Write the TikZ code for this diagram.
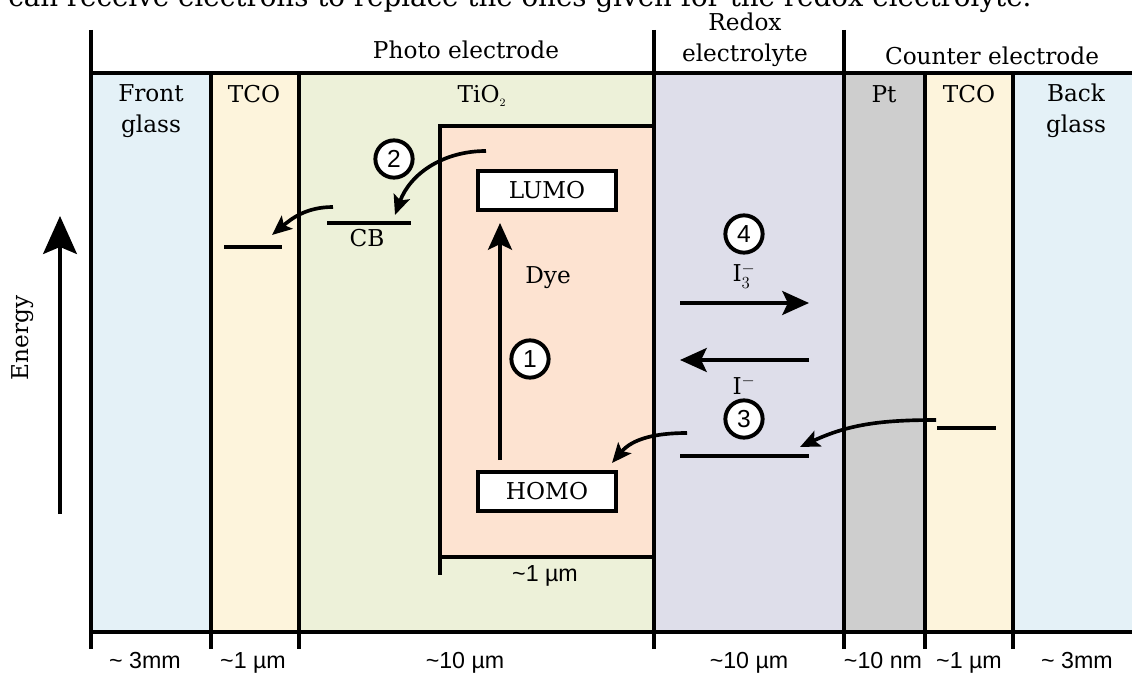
\documentclass[tikz,border=0pt]{standalone}
\usepackage{fontspec}
\setmainfont{DejaVu Serif}
\newfontfamily\dimfont{Liberation Sans}
\usepackage{tikz}
\usetikzlibrary{arrows.meta}
\definecolor{CellGlass}{HTML}{E4F1F7}
\definecolor{CellTCO}{HTML}{FDF4DC}
\definecolor{CellTiO}{HTML}{EDF1D9}
\definecolor{CellDye}{HTML}{FDE3D1}
\definecolor{CellRedox}{HTML}{DEDEEA}
\definecolor{CellPt}{HTML}{CECECE}
\tikzset{
  wall/.style={line width=2.8pt},
  level/.style={line width=2.8pt},
  layer/.style={align=center,font=\fontsize{16.5}{22}\selectfont},
  dimtext/.style={font=\dimfont\fontsize{16.5}{18}\selectfont},
  orbital/.style={draw,fill=white,line width=2.8pt,minimum width=97.8pt,minimum height=27.6pt,inner sep=0pt,font=\fontsize{16.5}{19}\selectfont},
  stepmark/.style={circle,draw,fill=white,line width=2.8pt,minimum size=26.5pt,inner sep=0pt,font=\dimfont\fontsize{17.5}{18}\selectfont},
  flow/.style={line width=2.6pt,-{Stealth[length=14pt,width=12pt,inset=3pt]}},
  ionflow/.style={line width=2.6pt,-{Stealth[length=19pt,width=17pt,inset=4pt]}}
}

\begin{document}
\begin{tikzpicture}[x=0.025cm,y=0.025cm]
\path[use as bounding box] (0,0) rectangle (1132,673);
\node[anchor=base west,inner sep=0pt,font=\fontsize{19.7}{21}\selectfont] (sentence) at (8,666) {can receive electrons to replace the ones given for the redox electrolyte.};
% layers of the cell
\fill[CellGlass] (91,41) rectangle (211,600);
\fill[CellTCO] (211,41) rectangle (299,600);
\fill[CellTiO] (299,41) rectangle (654,600);
\fill[CellRedox] (654,41) rectangle (844,600);
\fill[CellPt] (844,41) rectangle (925,600);
\fill[CellTCO] (925,41) rectangle (1013,600);
\fill[CellGlass] (1013,41) rectangle (1132,600);
% dye layer
\fill[CellDye] (440,116) rectangle (654,547);
\draw[wall] (654,547) -- (440,547) -- (440,98);
\draw[wall] (440,116) -- (654,116);
% walls and ticks
\draw[wall] (91,643) -- (91,24);
\draw[wall] (654,643) -- (654,24);
\draw[wall] (844,643) -- (844,24);
\draw[wall] (211,600) -- (211,24);
\draw[wall] (299,600) -- (299,24);
\draw[wall] (925,600) -- (925,24);
\draw[wall] (1013,600) -- (1013,24);
\draw[wall] (91,600) -- (1132,600);
\draw[wall] (91,41) -- (1132,41);
% headers
\node[layer,anchor=base] (photo) at (466,614) {Photo electrode};
\node[layer,anchor=south,inner sep=0pt] (redox) at (745,606) {Redox\\electrolyte};
\node[layer,anchor=base] (counter) at (992,608) {Counter electrode};
\node[layer,anchor=south,inner sep=0pt] (frontglass) at (151,535) {Front\\glass};
\node[layer,anchor=base] (tcofront) at (254,570) {TCO};
\node[layer,anchor=base] (tio) at (482,570) {TiO$_{\scriptscriptstyle 2}$};
\node[layer,anchor=base] (pt) at (884,570) {Pt};
\node[layer,anchor=base] (tcoback) at (969,570) {TCO};
\node[layer,anchor=south,inner sep=0pt] (backglass) at (1076,535) {Back\\glass};
% energy axis
\coordinate (ebase) at (60,159);
\coordinate (etip) at (60,457);
\draw[line width=2.6pt,-{Stealth[length=27pt,width=24pt,inset=5pt]}] (ebase) -- (etip);
\node[layer,rotate=90] (energy) at (23,335) {Energy};
% levels
\coordinate (tcoL) at (224,426);
\coordinate (tcoR) at (282,426);
\draw[level] (tcoL) -- (tcoR);
\coordinate (cbL) at (327,450);
\coordinate (cbR) at (411,450);
\draw[level] (cbL) -- (cbR);
\node[layer,anchor=base] (cb) at (367,426) {CB};
\coordinate (redL) at (680,217);
\coordinate (redR) at (809,217);
\draw[level] (redL) -- (redR);
\coordinate (ctcoL) at (937,245);
\coordinate (ctcoR) at (996,245);
\draw[level] (ctcoL) -- (ctcoR);
% dye orbitals
\node[orbital] (lumo) at (547,482.5) {LUMO};
\node[orbital] (homo) at (547,181.5) {HOMO};
\node[layer,anchor=base] (dye) at (548,390) {Dye};
\coordinate (exc0) at (500,213);
\coordinate (exc1) at (500,450);
\draw[ionflow] (exc0) -- (exc1);
% electron path
\coordinate (inj0) at (486,522);
\coordinate (inj1) at (395,458);
\draw[flow] (inj0) to[out=180,in=70] (inj1);
\coordinate (cbout) at (333,466);
\coordinate (tcoin) at (272,438);
\draw[flow] (cbout) to[out=180,in=40] (tcoin);
\coordinate (reg0) at (687,240);
\coordinate (reg1) at (612,210);
\draw[flow] (reg0) to[out=180,in=50] (reg1);
\coordinate (ce0) at (936,253);
\coordinate (ce1) at (800,226);
\draw[flow] (ce0) to[out=180,in=25] (ce1);
% ions
\coordinate (itri0) at (680,370);
\coordinate (itri1) at (809,370);
\draw[ionflow] (itri0) -- (itri1);
\node[layer,anchor=base] (itri) at (744,391) {I$^{-}_{3}$};
\coordinate (iod0) at (809,313);
\coordinate (iod1) at (680,313);
\draw[ionflow] (iod0) -- (iod1);
\node[layer,anchor=base] (iodide) at (744,279) {I$^{-}$};
% steps
\node[stepmark] (step1) at (530,314) {1};
\node[stepmark] (step2) at (394,514) {2};
\node[stepmark] (step3) at (744,254) {3};
\node[stepmark] (step4) at (744,439) {4};
% thicknesses
\node[dimtext,anchor=base] (dimdye) at (545,92) {\textasciitilde1 µm};
\node[dimtext,anchor=base] (dimfront) at (145,5) {\textasciitilde{} 3mm};
\node[dimtext,anchor=base] (dimtcofront) at (253,5) {\textasciitilde1 µm};
\node[dimtext,anchor=base] (dimtio) at (465,5) {\textasciitilde10 µm};
\node[dimtext,anchor=base] (dimredox) at (749,5) {\textasciitilde10 µm};
\node[dimtext,anchor=base] (dimpt) at (883,5) {\textasciitilde10 nm};
\node[dimtext,anchor=base] (dimtcoback) at (969,5) {\textasciitilde1 µm};
\node[dimtext,anchor=base] (dimback) at (1077,5) {\textasciitilde{} 3mm};
\end{tikzpicture}
\end{document}
